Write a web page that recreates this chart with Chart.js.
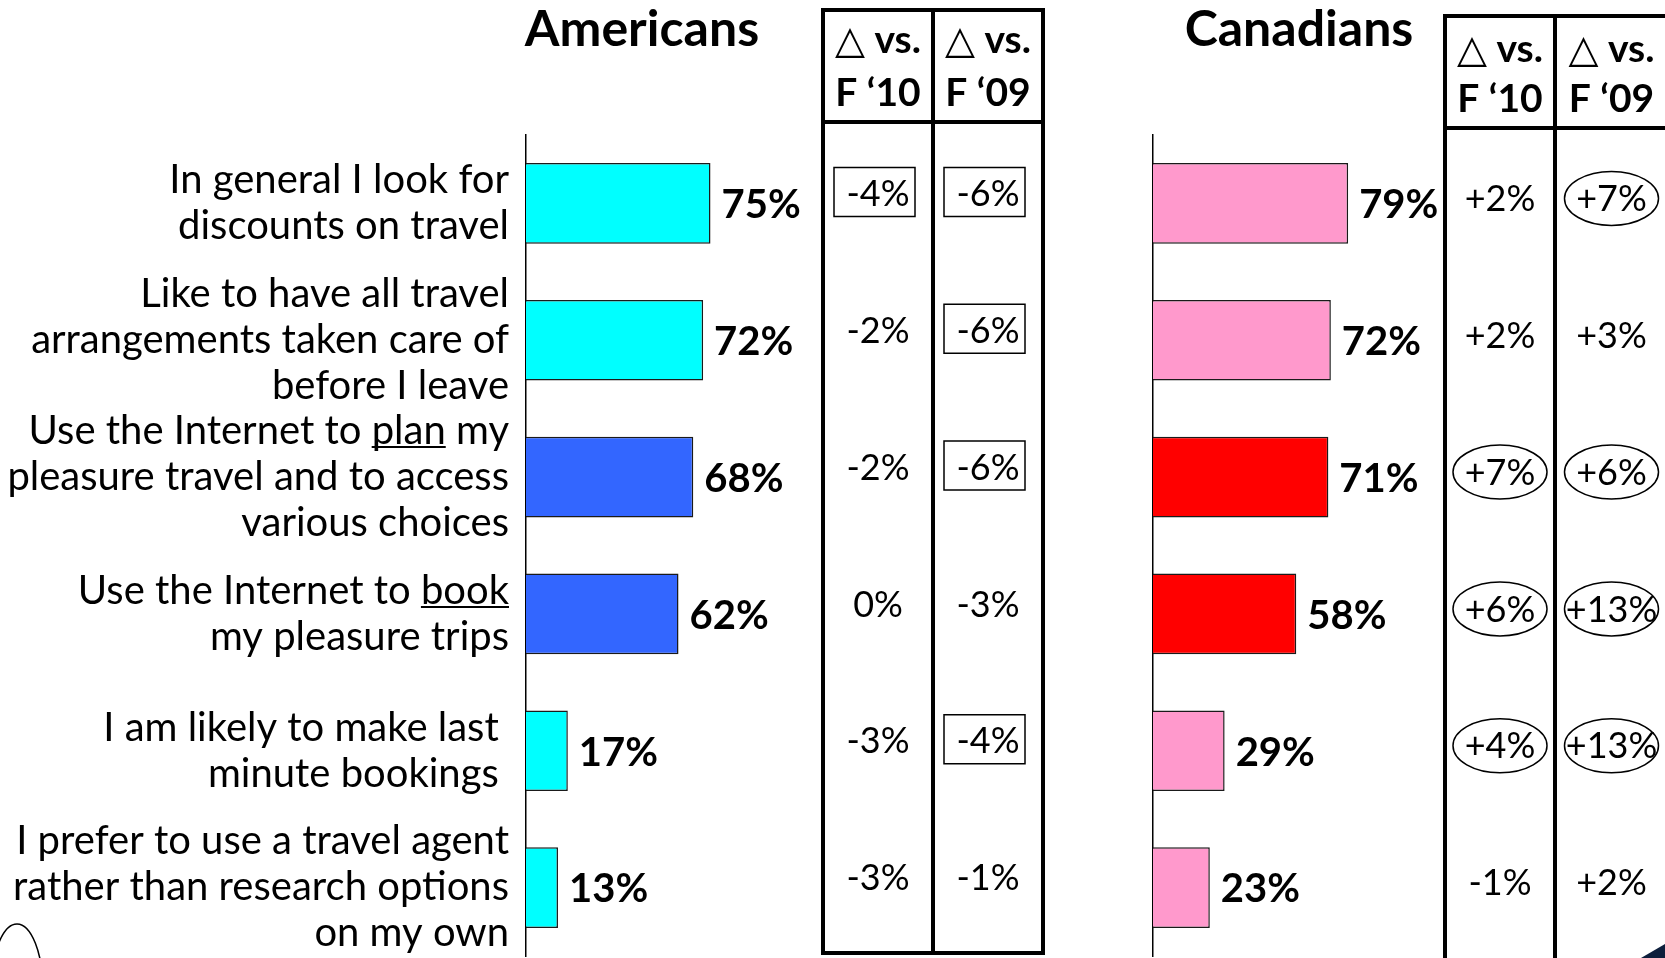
<!DOCTYPE html>
<html>
<head>
<meta charset="utf-8">
<title>Travel attitudes – Americans vs Canadians</title>
<script src="https://cdn.jsdelivr.net/npm/chart.js@4.4.1/dist/chart.umd.min.js"></script>
<style>
  html, body { margin: 0; padding: 0; background: #fff; }
  body { width: 1665px; height: 958px; position: relative; overflow: hidden; }
  canvas { position: absolute; top: 0; }
  #us { left: 0; }
  #ca { left: 1050px; }
</style>
</head>
<body>
<canvas id="us" width="1050" height="958"></canvas>
<canvas id="ca" width="615" height="958"></canvas>
<script>
const statements = [
    ['In general I look for', 'discounts on travel'],
    ['Like to have all travel', 'arrangements taken care of', 'before I leave'],
    ['Use the Internet to plan my', 'pleasure travel and to access', 'various choices'],
    ['Use the Internet to book', 'my pleasure trips'],
    ['I am likely to make last ', 'minute bookings '],
    ['I prefer to use a travel agent', 'rather than research options', 'on my own'],
];
const underlinedWords = [null, null, 'plan', 'book', null, null];
const internetRows = [false, false, true, true, false, false];

const usShares = [75, 72, 68, 62, 17, 13];
const caShares = [79, 72, 71, 58, 29, 23];

const deltaHeaders = [['\u25B3 vs.', 'F \u201810'], ['\u25B3 vs.', 'F \u201809']];
const usDeltaF10 = [-4, -2, -2, 0, -3, -3];
const usDeltaF09 = [-6, -6, -6, -3, -4, -1];
const caDeltaF10 = [2, 2, 7, 6, 4, -1];
const caDeltaF09 = [7, 3, 6, 13, 13, 2];
// significant changes: boxed for Americans, circled for Canadians
const usFlagF10 = [true, false, false, false, false, false];
const usFlagF09 = [true, true, true, false, true, false];
const caFlagF10 = [false, false, true, true, true, false];
const caFlagF09 = [true, false, true, true, true, false];

const FONT = 'Lato, "DejaVu Sans", sans-serif';
const LABEL_SIZE = 40;
const LABEL_LH = 46 / 40;
const LABEL_PAD = 17;

function fmtDelta(v) {
    return (v > 0 ? '+' : '') + v + '%';
}

function sidePlugin(opts) {
    return {
        id: 'side',
        afterDraw(chart) {
            const ctx = chart.ctx;
            const yScale = chart.scales.y;
            const meta = chart.getDatasetMeta(0);
            const values = chart.data.datasets[0].data;
            ctx.save();
            ctx.fillStyle = '#000';
            ctx.strokeStyle = '#000';

            // titre
            ctx.font = 'bold 50px ' + FONT;
            ctx.textAlign = 'center';
            ctx.textBaseline = 'alphabetic';
            ctx.fillText(opts.title, opts.titleX, 46);

            // valeurs au bout des barres
            ctx.font = 'bold 40px ' + FONT;
            ctx.textAlign = 'left';
            ctx.textBaseline = 'middle';
            meta.data.forEach(function(bar, i) {
                ctx.fillText(values[i] + '%', bar.x + 11, bar.y + 2);
            });

            // mots soulignés
            if (opts.underline) {
                ctx.font = LABEL_SIZE + 'px ' + FONT;
                ctx.lineWidth = 2;
                const lh = LABEL_SIZE * LABEL_LH;
                const right = yScale.right - LABEL_PAD;
                statements.forEach(function(lines, i) {
                    const word = underlinedWords[i];
                    if (!word) return;
                    const base = yScale.getPixelForValue(i) + (1 - lines.length) * lh / 2;
                    lines.forEach(function(line, j) {
                        const k = line.indexOf(word);
                        if (k < 0) return;
                        const x0 = right - ctx.measureText(line).width + ctx.measureText(line.slice(0, k)).width;
                        const w = ctx.measureText(word).width;
                        const y = base + j * lh + 16;
                        ctx.beginPath();
                        ctx.moveTo(x0, y);
                        ctx.lineTo(x0 + w, y);
                        ctx.stroke();
                    });
                });
            }

            // tableau des écarts
            const t = opts.table;
            ctx.lineWidth = 4;
            ctx.beginPath();
            ctx.rect(t.left, t.top, t.right - t.left, t.bottom - t.top);
            ctx.moveTo(t.mid, t.top);
            ctx.lineTo(t.mid, t.bottom);
            ctx.moveTo(t.left, t.headY);
            ctx.lineTo(t.right, t.headY);
            ctx.stroke();

            const centers = [(t.left + t.mid) / 2, (t.mid + t.right) / 2];
            ctx.font = 'bold 39px ' + FONT;
            ctx.textAlign = 'center';
            ctx.textBaseline = 'alphabetic';
            deltaHeaders.forEach(function(h, c) {
                ctx.fillText(h[0], centers[c], t.head1);
                ctx.fillText(h[1], centers[c], t.head2);
            });

            ctx.font = '36px ' + FONT;
            ctx.textBaseline = 'middle';
            ctx.lineWidth = 1.5;
            t.columns.forEach(function(col, c) {
                col.values.forEach(function(v, i) {
                    const y = yScale.getPixelForValue(i) + t.rowShift;
                    ctx.fillText(fmtDelta(v), centers[c], y);
                    if (!col.flags[i]) return;
                    ctx.beginPath();
                    if (t.mark === 'box') {
                        ctx.rect(centers[c] - 44, y - 27, 81, 49);
                    } else {
                        ctx.ellipse(centers[c], y - 1, 47, 27, 0, 0, Math.PI * 2);
                    }
                    ctx.stroke();
                });
            });

            if (opts.extra) opts.extra(ctx);
            ctx.restore();
        }
    };
}

function barConfig(values, colors, yWidth, padRight, showLabels, plugin) {
    return {
        type: 'bar',
        data: {
            labels: statements,
            datasets: [{
                data: values,
                backgroundColor: colors,
                borderColor: '#1a1a1a',
                borderWidth: 1.5,
                categoryPercentage: 1,
                barPercentage: 0.59,
            }],
        },
        options: {
            indexAxis: 'y',
            responsive: false,
            animation: false,
            events: [],
            layout: { padding: { top: 135, bottom: 2, left: 0, right: padRight } },
            plugins: { legend: { display: false }, tooltip: { enabled: false } },
            scales: {
                x: { display: false, min: 0, max: 100 },
                y: {
                    grid: { display: false, drawTicks: false },
                    border: { display: true, color: '#000', width: 1.5 },
                    ticks: {
                        display: showLabels,
                        autoSkip: false,
                        color: '#000',
                        padding: LABEL_PAD,
                        font: { family: FONT, size: LABEL_SIZE, lineHeight: LABEL_LH },
                    },
                    afterFit: function(scale) {
                        scale.width = yWidth;
                        scale.paddingTop = 0;
                        scale.paddingBottom = 0;
                    },
                },
            },
        },
        plugins: [plugin],
    };
}

// Américains
new Chart(document.getElementById('us'), barConfig(
    usShares,
    internetRows.map(function(r) { return r ? '#3366FF' : '#00FFFF'; }),
    526, 278, true,
    sidePlugin({
        title: 'Americans', titleX: 642, underline: true,
        table: {
            left: 823, mid: 933, right: 1043, top: 10, headY: 122, bottom: 953,
            head1: 53, head2: 106, rowShift: -9, mark: 'box',
            columns: [{ values: usDeltaF10, flags: usFlagF10 }, { values: usDeltaF09, flags: usFlagF09 }],
        },
        extra: function(ctx) {
            ctx.lineWidth = 1.5;
            ctx.beginPath();
            ctx.ellipse(17, 990, 26, 66, 0, 0, Math.PI * 2);
            ctx.stroke();
        },
    })
));

// Canadiens
new Chart(document.getElementById('ca'), barConfig(
    caShares,
    internetRows.map(function(r) { return r ? '#FF0000' : '#FF99CC'; }),
    103, 265, false,
    sidePlugin({
        title: 'Canadians', titleX: 249, underline: false,
        table: {
            left: 395, mid: 505, right: 618, top: 16, headY: 128, bottom: 962,
            head1: 62, head2: 112, rowShift: -4, mark: 'ellipse',
            columns: [{ values: caDeltaF10, flags: caFlagF10 }, { values: caDeltaF09, flags: caFlagF09 }],
        },
        extra: function(ctx) {
            ctx.fillStyle = '#0d1f3c';
            ctx.beginPath();
            ctx.moveTo(615, 944);
            ctx.lineTo(615, 958);
            ctx.lineTo(591, 958);
            ctx.closePath();
            ctx.fill();
        },
    })
));
</script>
</body>
</html>
